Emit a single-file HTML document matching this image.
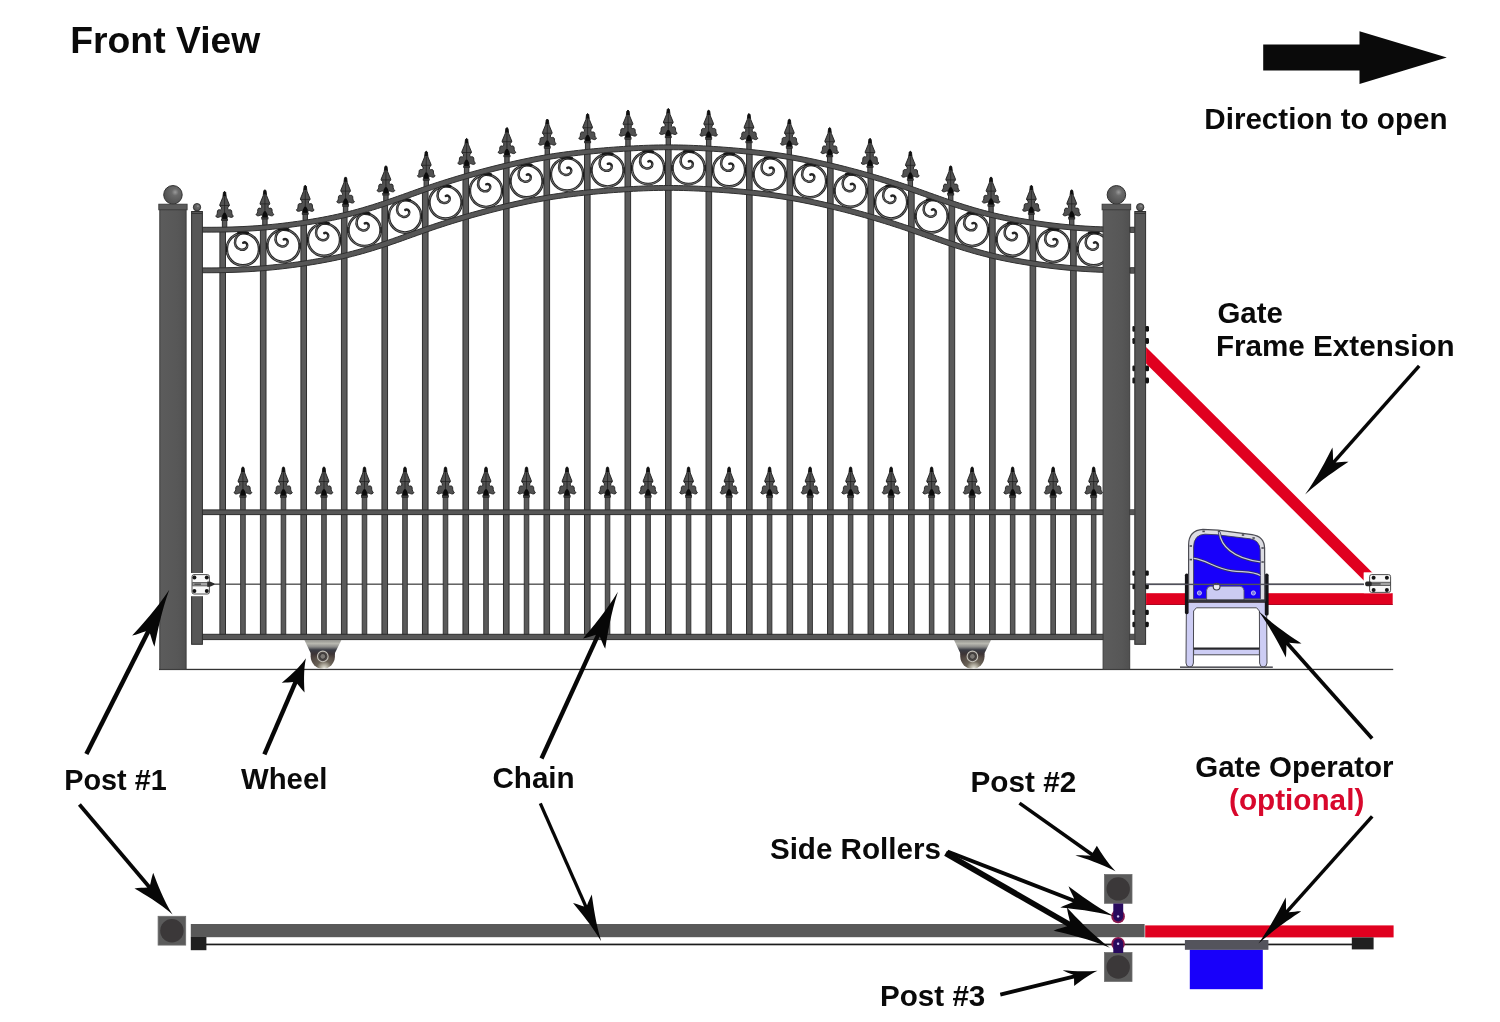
<!DOCTYPE html>
<html><head><meta charset="utf-8"><title>Sliding gate diagram</title>
<style>
html,body{margin:0;padding:0;background:#fff;}
body{width:1500px;height:1022px;overflow:hidden;font-family:"Liberation Sans",sans-serif;}
svg{display:block;}
text{font-family:"Liberation Sans",sans-serif;font-weight:bold;}
</style></head><body>
<svg width="1500" height="1022" viewBox="0 0 1500 1022">
<defs>
<radialGradient id="ball" cx="0.62" cy="0.36" r="0.75">
<stop offset="0" stop-color="#9a9a9a"/><stop offset="0.25" stop-color="#6a6a6a"/><stop offset="1" stop-color="#4a4a4a"/>
</radialGradient>
<linearGradient id="postg" x1="0" x2="1" y1="0" y2="0">
<stop offset="0" stop-color="#5c5c5c"/><stop offset="0.7" stop-color="#575757"/><stop offset="1" stop-color="#505050"/>
</linearGradient>
<linearGradient id="brk" x1="0" x2="0" y1="0" y2="1">
<stop offset="0" stop-color="#92928e"/><stop offset="0.2" stop-color="#b8b8b0"/><stop offset="0.38" stop-color="#8c8c8a"/><stop offset="0.55" stop-color="#3a3c44"/><stop offset="0.78" stop-color="#3c3436"/><stop offset="1" stop-color="#4a3e3a" stop-opacity="0"/>
</linearGradient>
<radialGradient id="whl" cx="0.56" cy="1.0" r="0.95">
<stop offset="0" stop-color="#f0f0e8"/><stop offset="0.16" stop-color="#b4b0a2"/><stop offset="0.34" stop-color="#6a6256"/><stop offset="0.7" stop-color="#4e4440"/><stop offset="1" stop-color="#3a3232"/>
</radialGradient>
<g id="fin">
<path d="M0,-0.3 L-1.1,0.8 L-1.7,5.6 L-4.85,13.3 L-4.6,14.5 L-3.3,15.5 L-3.2,17.5 L-4.2,18.3 C-5.4,17.8 -6.9,18.2 -7.1,19.4 C-7.2,21 -7.3,22.3 -7.6,23.1 C-8,23.7 -8.9,23.9 -8.8,24.4 C-8.4,25.7 -7,26.1 -5.8,25.7 C-4.6,25.3 -3.6,24.6 -2.7,25.2 L-2.4,27.5 L2.4,27.5 L2.7,25.2 C3.6,24.6 4.6,25.3 5.8,25.7 C7,26.1 8.4,25.7 8.8,24.4 C8.9,23.9 8,23.7 7.6,23.1 C7.3,22.3 7.2,21 7.1,19.4 C6.9,18.2 5.4,17.8 4.2,18.3 L3.2,17.5 L3.3,15.5 L4.6,14.5 L4.85,13.3 L1.7,5.6 L1.1,0.8 Z" fill="#515151" stroke="#1c1c1c" stroke-width="0.9" stroke-linejoin="round"/>
<path d="M0,-0.3 L-1.1,0.8 L-1.5,4.6 L1.5,4.6 L1.1,0.8 Z" fill="#101010"/>
<path d="M-4.5,13.9 L4.5,13.9 M0,5 L0,22" stroke="#1e1e1e" stroke-width="0.7" fill="none"/>
<path d="M-0.9,21.2 L0.9,21.2 L2.4,24 L2.4,27.5 L-2.4,27.5 L-2.4,24 Z" fill="#0b0b0b"/>
<rect x="-3.2" y="27.4" width="6.4" height="1.7" fill="#3a3a3a" stroke="#1e1e1e" stroke-width="0.5"/>
</g>
<g id="scr" fill="none" stroke-linecap="round">
<circle r="16.2" stroke="#242424" stroke-width="2.7"/>
<circle r="16.2" stroke="#8a8a8a" stroke-width="0.9" stroke-dasharray="1.4 0.9"/>
<path d="M4.4,-16.2 C-1,-17.4 -6,-15 -7.5,-10 C-8.9,-5 -7,-0.8 -2.3,0.4 C1.2,1.1 4.4,-1 4.3,-4 C4.2,-6.3 2,-7.5 0.3,-6.5" stroke="#242424" stroke-width="2.5"/>
<path d="M4.4,-16.2 C-1,-17.4 -6,-15 -7.5,-10 C-8.9,-5 -7,-0.8 -2.3,0.4 C1.2,1.1 4.4,-1 4.3,-4" stroke="#868686" stroke-width="0.8" stroke-dasharray="1.4 0.9"/>
<path d="M-4.5,-16.4 Q0,-17.9 4.8,-16.3" stroke="#161616" stroke-width="2.6"/>
<path d="M16.6,-3 L16.6,3 M-16.6,-3 L-16.6,3" stroke="#1a1a1a" stroke-width="1.6" stroke-linecap="butt"/>
</g>
</defs>
<rect width="1500" height="1022" fill="#fff"/>
<g id="front">
<rect x="159" y="668.8" width="1234.2" height="1.3" fill="#333"/>
<rect x="205" y="583.5" width="1159" height="1.4" fill="#555"/>
<use href="#scr" x="242.95" y="249.25"/>
<use href="#scr" x="283.46" y="245.87"/>
<use href="#scr" x="323.97" y="239.69"/>
<use href="#scr" x="364.49" y="229.89"/>
<use href="#scr" x="405" y="216.35"/>
<use href="#scr" x="445.5" y="202.47"/>
<use href="#scr" x="486.01" y="190.79"/>
<use href="#scr" x="526.52" y="181.24"/>
<use href="#scr" x="567.03" y="174.44"/>
<use href="#scr" x="607.54" y="170.3"/>
<use href="#scr" x="648.05" y="167.96"/>
<use href="#scr" x="688.56" y="167.95"/>
<use href="#scr" x="729.07" y="170.27"/>
<use href="#scr" x="769.58" y="174.39"/>
<use href="#scr" x="810.09" y="181.16"/>
<use href="#scr" x="850.6" y="190.69"/>
<use href="#scr" x="891.11" y="202.35"/>
<use href="#scr" x="931.62" y="216.22"/>
<use href="#scr" x="972.13" y="229.78"/>
<use href="#scr" x="1012.64" y="239.62"/>
<use href="#scr" x="1053.15" y="245.82"/>
<use href="#scr" x="1093.66" y="249.23"/>
<g fill="#5a5a5a" stroke="#2e2e2e" stroke-width="0.9"><rect x="240.65" y="496" width="4.6" height="138.8"/><rect x="281.16" y="496" width="4.6" height="138.8"/><rect x="321.67" y="496" width="4.6" height="138.8"/><rect x="362.19" y="496" width="4.6" height="138.8"/><rect x="402.69" y="496" width="4.6" height="138.8"/><rect x="443.2" y="496" width="4.6" height="138.8"/><rect x="483.71" y="496" width="4.6" height="138.8"/><rect x="524.23" y="496" width="4.6" height="138.8"/><rect x="564.74" y="496" width="4.6" height="138.8"/><rect x="605.25" y="496" width="4.6" height="138.8"/><rect x="645.75" y="496" width="4.6" height="138.8"/><rect x="686.26" y="496" width="4.6" height="138.8"/><rect x="726.78" y="496" width="4.6" height="138.8"/><rect x="767.29" y="496" width="4.6" height="138.8"/><rect x="807.8" y="496" width="4.6" height="138.8"/><rect x="848.31" y="496" width="4.6" height="138.8"/><rect x="888.82" y="496" width="4.6" height="138.8"/><rect x="929.33" y="496" width="4.6" height="138.8"/><rect x="969.84" y="496" width="4.6" height="138.8"/><rect x="1010.35" y="496" width="4.6" height="138.8"/><rect x="1050.86" y="496" width="4.6" height="138.8"/><rect x="1091.37" y="496" width="4.6" height="138.8"/></g>
<use href="#fin" transform="translate(242.95,467.1) scale(1,1.04)"/>
<use href="#fin" transform="translate(283.46,467.1) scale(1,1.04)"/>
<use href="#fin" transform="translate(323.97,467.1) scale(1,1.04)"/>
<use href="#fin" transform="translate(364.49,467.1) scale(1,1.04)"/>
<use href="#fin" transform="translate(405,467.1) scale(1,1.04)"/>
<use href="#fin" transform="translate(445.5,467.1) scale(1,1.04)"/>
<use href="#fin" transform="translate(486.01,467.1) scale(1,1.04)"/>
<use href="#fin" transform="translate(526.52,467.1) scale(1,1.04)"/>
<use href="#fin" transform="translate(567.03,467.1) scale(1,1.04)"/>
<use href="#fin" transform="translate(607.54,467.1) scale(1,1.04)"/>
<use href="#fin" transform="translate(648.05,467.1) scale(1,1.04)"/>
<use href="#fin" transform="translate(688.56,467.1) scale(1,1.04)"/>
<use href="#fin" transform="translate(729.08,467.1) scale(1,1.04)"/>
<use href="#fin" transform="translate(769.59,467.1) scale(1,1.04)"/>
<use href="#fin" transform="translate(810.1,467.1) scale(1,1.04)"/>
<use href="#fin" transform="translate(850.61,467.1) scale(1,1.04)"/>
<use href="#fin" transform="translate(891.12,467.1) scale(1,1.04)"/>
<use href="#fin" transform="translate(931.62,467.1) scale(1,1.04)"/>
<use href="#fin" transform="translate(972.13,467.1) scale(1,1.04)"/>
<use href="#fin" transform="translate(1012.64,467.1) scale(1,1.04)"/>
<use href="#fin" transform="translate(1053.15,467.1) scale(1,1.04)"/>
<use href="#fin" transform="translate(1093.66,467.1) scale(1,1.04)"/>
<g fill="#5a5a5a" stroke="#2e2e2e" stroke-width="1"><rect x="222.37" y="220.1" width="4.4" height="9.1"/><rect x="219.9" y="228.7" width="5.6" height="407.1"/><rect x="262.71" y="218.5" width="4.4" height="8.72"/><rect x="260.41" y="226.72" width="5.6" height="409.08"/><rect x="303.05" y="214" width="4.4" height="8.43"/><rect x="300.92" y="221.93" width="5.6" height="413.87"/><rect x="343.39" y="205.7" width="4.4" height="8.95"/><rect x="341.43" y="214.15" width="5.6" height="421.65"/><rect x="383.73" y="194.5" width="4.4" height="8.26"/><rect x="381.94" y="202.26" width="5.6" height="433.54"/><rect x="424.07" y="179.9" width="4.4" height="8.57"/><rect x="422.45" y="187.97" width="5.6" height="447.83"/><rect x="464.41" y="167.1" width="4.4" height="8.55"/><rect x="462.96" y="175.15" width="5.6" height="460.65"/><rect x="504.75" y="156.3" width="4.4" height="8.74"/><rect x="503.47" y="164.54" width="5.6" height="471.26"/><rect x="545.09" y="147.8" width="4.4" height="8.93"/><rect x="543.98" y="156.23" width="5.6" height="479.57"/><rect x="585.43" y="142.3" width="4.4" height="9.12"/><rect x="584.49" y="150.92" width="5.6" height="484.88"/><rect x="625.77" y="138.8" width="4.4" height="9.41"/><rect x="625" y="147.71" width="5.6" height="488.09"/><rect x="666.11" y="137.2" width="4.4" height="9.7"/><rect x="665.51" y="146.4" width="5.6" height="489.4"/><rect x="706.45" y="138.8" width="4.4" height="9.39"/><rect x="706.02" y="147.69" width="5.6" height="488.11"/><rect x="746.79" y="142.3" width="4.4" height="9.08"/><rect x="746.53" y="150.88" width="5.6" height="484.92"/><rect x="787.13" y="147.8" width="4.4" height="8.87"/><rect x="787.04" y="156.17" width="5.6" height="479.63"/><rect x="827.47" y="156.3" width="4.4" height="8.66"/><rect x="827.55" y="164.46" width="5.6" height="471.34"/><rect x="867.81" y="167.1" width="4.4" height="8.45"/><rect x="868.06" y="175.05" width="5.6" height="460.75"/><rect x="908.15" y="179.9" width="4.4" height="8.43"/><rect x="908.57" y="187.83" width="5.6" height="447.97"/><rect x="948.49" y="194.5" width="4.4" height="8.14"/><rect x="949.08" y="202.14" width="5.6" height="433.66"/><rect x="988.83" y="205.7" width="4.4" height="8.85"/><rect x="989.59" y="214.05" width="5.6" height="421.75"/><rect x="1029.17" y="214" width="4.4" height="8.37"/><rect x="1030.1" y="221.87" width="5.6" height="413.93"/><rect x="1069.51" y="218.5" width="4.4" height="8.68"/><rect x="1070.61" y="226.68" width="5.6" height="409.12"/></g>
<use href="#fin" x="224.57" y="191.6"/>
<use href="#fin" x="264.91" y="190"/>
<use href="#fin" x="305.25" y="185.5"/>
<use href="#fin" x="345.59" y="177.2"/>
<use href="#fin" x="385.93" y="166"/>
<use href="#fin" x="426.27" y="151.4"/>
<use href="#fin" x="466.61" y="138.6"/>
<use href="#fin" x="506.95" y="127.8"/>
<use href="#fin" x="547.29" y="119.3"/>
<use href="#fin" x="587.63" y="113.8"/>
<use href="#fin" x="627.97" y="110.3"/>
<use href="#fin" x="668.31" y="108.7"/>
<use href="#fin" x="708.65" y="110.3"/>
<use href="#fin" x="748.99" y="113.8"/>
<use href="#fin" x="789.33" y="119.3"/>
<use href="#fin" x="829.67" y="127.8"/>
<use href="#fin" x="870.01" y="138.6"/>
<use href="#fin" x="910.35" y="151.4"/>
<use href="#fin" x="950.69" y="166"/>
<use href="#fin" x="991.03" y="177.2"/>
<use href="#fin" x="1031.37" y="185.5"/>
<use href="#fin" x="1071.71" y="190"/>
<path d="M201.9,227.31 L206.92,227.32 L211.94,227.31 L216.95,227.28 L221.97,227.22 L226.99,227.12 L232.01,226.98 L237.03,226.8 L242.05,226.59 L247.06,226.33 L252.08,226.03 L257.1,225.69 L262.12,225.31 L267.14,224.87 L272.16,224.4 L277.17,223.88 L282.19,223.32 L287.21,222.71 L292.23,222.06 L297.25,221.38 L302.27,220.65 L307.28,219.88 L312.3,219.07 L317.32,218.21 L322.34,217.3 L327.36,216.34 L332.38,215.32 L337.39,214.23 L342.41,213.08 L347.43,211.86 L352.45,210.56 L357.47,209.2 L362.48,207.78 L367.5,206.29 L372.52,204.75 L377.54,203.15 L382.56,201.5 L387.58,199.8 L392.59,198.06 L397.61,196.29 L402.63,194.5 L407.65,192.7 L412.67,190.9 L417.69,189.12 L422.7,187.35 L427.72,185.62 L432.74,183.92 L437.76,182.26 L442.78,180.64 L447.8,179.05 L452.81,177.5 L457.83,175.98 L462.85,174.5 L467.87,173.05 L472.89,171.63 L477.91,170.25 L482.92,168.9 L487.94,167.59 L492.96,166.3 L497.98,165.05 L503,163.82 L508.02,162.63 L513.03,161.48 L518.05,160.35 L523.07,159.27 L528.09,158.22 L533.11,157.22 L538.12,156.26 L543.14,155.36 L548.16,154.5 L553.18,153.7 L558.2,152.95 L563.22,152.24 L568.23,151.58 L573.25,150.96 L578.27,150.38 L583.29,149.83 L588.31,149.32 L593.33,148.83 L598.34,148.37 L603.36,147.94 L608.38,147.53 L613.4,147.15 L618.42,146.8 L623.44,146.47 L628.45,146.17 L633.47,145.9 L638.49,145.65 L643.51,145.43 L648.53,145.25 L653.55,145.1 L658.56,144.99 L663.58,144.92 L668.6,144.9 L673.62,144.92 L678.64,144.99 L683.65,145.1 L688.67,145.25 L693.69,145.44 L698.71,145.66 L703.73,145.91 L708.75,146.18 L713.76,146.49 L718.78,146.81 L723.8,147.17 L728.82,147.55 L733.84,147.95 L738.86,148.39 L743.87,148.85 L748.89,149.34 L753.91,149.85 L758.93,150.4 L763.95,150.99 L768.97,151.61 L773.98,152.27 L779,152.98 L784.02,153.73 L789.04,154.53 L794.06,155.39 L799.08,156.3 L804.09,157.26 L809.11,158.26 L814.13,159.31 L819.15,160.4 L824.17,161.52 L829.18,162.68 L834.2,163.87 L839.22,165.1 L844.24,166.35 L849.26,167.64 L854.28,168.96 L859.29,170.31 L864.31,171.69 L869.33,173.11 L874.35,174.56 L879.37,176.04 L884.39,177.56 L889.4,179.11 L894.42,180.7 L899.44,182.33 L904.46,183.99 L909.48,185.68 L914.5,187.42 L919.51,189.19 L924.53,190.97 L929.55,192.77 L934.57,194.57 L939.59,196.36 L944.61,198.13 L949.62,199.87 L954.64,201.56 L959.66,203.21 L964.68,204.81 L969.7,206.35 L974.72,207.84 L979.73,209.26 L984.75,210.62 L989.77,211.91 L994.79,213.13 L999.81,214.28 L1004.82,215.36 L1009.84,216.38 L1014.86,217.34 L1019.88,218.24 L1024.9,219.1 L1029.92,219.91 L1034.93,220.68 L1039.95,221.4 L1044.97,222.09 L1049.99,222.74 L1055.01,223.34 L1060.03,223.9 L1065.04,224.42 L1070.06,224.89 L1075.08,225.32 L1080.1,225.71 L1085.12,226.05 L1090.14,226.34 L1095.15,226.6 L1100.17,226.81 L1105.19,226.99 L1110.21,227.12 L1115.23,227.22 L1120.25,227.28 L1125.26,227.31 L1130.28,227.32 L1135.3,227.31 L1135.3,232.11 L1130.28,232.12 L1125.26,232.11 L1120.25,232.08 L1115.23,232.02 L1110.21,231.92 L1105.19,231.79 L1100.17,231.62 L1095.15,231.41 L1090.14,231.16 L1085.12,230.87 L1080.1,230.54 L1075.08,230.16 L1070.06,229.74 L1065.04,229.28 L1060.03,228.77 L1055.01,228.22 L1049.99,227.63 L1044.97,226.99 L1039.95,226.32 L1034.93,225.61 L1029.92,224.85 L1024.9,224.06 L1019.88,223.22 L1014.86,222.34 L1009.84,221.4 L1004.82,220.41 L999.81,219.36 L994.79,218.25 L989.77,217.07 L984.75,215.82 L979.73,214.5 L974.72,213.12 L969.7,211.68 L964.68,210.17 L959.66,208.61 L954.64,207 L949.62,205.34 L944.61,203.63 L939.59,201.89 L934.57,200.11 L929.55,198.31 L924.53,196.51 L919.51,194.71 L914.5,192.92 L909.48,191.16 L904.46,189.43 L899.44,187.74 L894.42,186.09 L889.4,184.48 L884.39,182.9 L879.37,181.36 L874.35,179.85 L869.33,178.38 L864.31,176.94 L859.29,175.53 L854.28,174.16 L849.26,172.82 L844.24,171.52 L839.22,170.25 L834.2,169.01 L829.18,167.8 L824.17,166.62 L819.15,165.48 L814.13,164.37 L809.11,163.3 L804.09,162.28 L799.08,161.3 L794.06,160.37 L789.04,159.49 L784.02,158.67 L779,157.9 L773.98,157.18 L768.97,156.5 L763.95,155.87 L758.93,155.28 L753.91,154.72 L748.89,154.19 L743.87,153.7 L738.86,153.23 L733.84,152.79 L728.82,152.38 L723.8,152 L718.78,151.64 L713.76,151.31 L708.75,151 L703.73,150.72 L698.71,150.47 L693.69,150.25 L688.67,150.06 L683.65,149.91 L678.64,149.79 L673.62,149.72 L668.6,149.7 L663.58,149.72 L658.56,149.79 L653.55,149.9 L648.53,150.05 L643.51,150.24 L638.49,150.46 L633.47,150.71 L628.45,150.99 L623.44,151.3 L618.42,151.63 L613.4,151.98 L608.38,152.37 L603.36,152.78 L598.34,153.21 L593.33,153.68 L588.31,154.17 L583.29,154.7 L578.27,155.25 L573.25,155.85 L568.23,156.48 L563.22,157.15 L558.2,157.87 L553.18,158.64 L548.16,159.46 L543.14,160.33 L538.12,161.26 L533.11,162.24 L528.09,163.26 L523.07,164.33 L518.05,165.43 L513.03,166.57 L508.02,167.75 L503,168.96 L497.98,170.2 L492.96,171.47 L487.94,172.77 L482.92,174.11 L477.91,175.48 L472.89,176.88 L467.87,178.32 L462.85,179.79 L457.83,181.3 L452.81,182.84 L447.8,184.41 L442.78,186.03 L437.76,187.68 L432.74,189.36 L427.72,191.09 L422.7,192.85 L417.69,194.64 L412.67,196.44 L407.65,198.24 L402.63,200.04 L397.61,201.82 L392.59,203.57 L387.58,205.28 L382.56,206.94 L377.54,208.55 L372.52,210.11 L367.5,211.62 L362.48,213.06 L357.47,214.45 L352.45,215.77 L347.43,217.02 L342.41,218.2 L337.39,219.32 L332.38,220.37 L327.36,221.36 L322.34,222.3 L317.32,223.19 L312.3,224.03 L307.28,224.82 L302.27,225.58 L297.25,226.29 L292.23,226.97 L287.21,227.6 L282.19,228.2 L277.17,228.75 L272.16,229.26 L267.14,229.72 L262.12,230.14 L257.1,230.52 L252.08,230.86 L247.06,231.15 L242.05,231.4 L237.03,231.61 L232.01,231.79 L226.99,231.92 L221.97,232.02 L216.95,232.08 L211.94,232.11 L206.92,232.12 L201.9,232.11Z" fill="#575757" stroke="#2e2e2e" stroke-width="1" stroke-linejoin="round"/>
<path d="M201.9,267.91 L206.92,267.92 L211.94,267.91 L216.95,267.88 L221.97,267.82 L226.99,267.72 L232.01,267.58 L237.03,267.4 L242.05,267.19 L247.06,266.93 L252.08,266.63 L257.1,266.29 L262.12,265.91 L267.14,265.47 L272.16,265 L277.17,264.48 L282.19,263.92 L287.21,263.31 L292.23,262.66 L297.25,261.98 L302.27,261.25 L307.28,260.48 L312.3,259.67 L317.32,258.81 L322.34,257.9 L327.36,256.94 L332.38,255.92 L337.39,254.83 L342.41,253.68 L347.43,252.46 L352.45,251.16 L357.47,249.8 L362.48,248.38 L367.5,246.89 L372.52,245.35 L377.54,243.75 L382.56,242.1 L387.58,240.4 L392.59,238.66 L397.61,236.89 L402.63,235.1 L407.65,233.3 L412.67,231.5 L417.69,229.72 L422.7,227.95 L427.72,226.22 L432.74,224.52 L437.76,222.86 L442.78,221.24 L447.8,219.65 L452.81,218.1 L457.83,216.58 L462.85,215.1 L467.87,213.65 L472.89,212.23 L477.91,210.85 L482.92,209.5 L487.94,208.19 L492.96,206.9 L497.98,205.65 L503,204.42 L508.02,203.23 L513.03,202.08 L518.05,200.95 L523.07,199.87 L528.09,198.82 L533.11,197.82 L538.12,196.86 L543.14,195.96 L548.16,195.1 L553.18,194.3 L558.2,193.55 L563.22,192.84 L568.23,192.18 L573.25,191.56 L578.27,190.98 L583.29,190.43 L588.31,189.92 L593.33,189.43 L598.34,188.97 L603.36,188.54 L608.38,188.13 L613.4,187.75 L618.42,187.4 L623.44,187.07 L628.45,186.77 L633.47,186.5 L638.49,186.25 L643.51,186.03 L648.53,185.85 L653.55,185.7 L658.56,185.59 L663.58,185.52 L668.6,185.5 L673.62,185.52 L678.64,185.59 L683.65,185.7 L688.67,185.85 L693.69,186.04 L698.71,186.26 L703.73,186.51 L708.75,186.78 L713.76,187.09 L718.78,187.41 L723.8,187.77 L728.82,188.15 L733.84,188.55 L738.86,188.99 L743.87,189.45 L748.89,189.94 L753.91,190.45 L758.93,191 L763.95,191.59 L768.97,192.21 L773.98,192.87 L779,193.58 L784.02,194.33 L789.04,195.13 L794.06,195.99 L799.08,196.9 L804.09,197.86 L809.11,198.86 L814.13,199.91 L819.15,201 L824.17,202.12 L829.18,203.28 L834.2,204.47 L839.22,205.7 L844.24,206.95 L849.26,208.24 L854.28,209.56 L859.29,210.91 L864.31,212.29 L869.33,213.71 L874.35,215.16 L879.37,216.64 L884.39,218.16 L889.4,219.71 L894.42,221.3 L899.44,222.93 L904.46,224.59 L909.48,226.28 L914.5,228.02 L919.51,229.79 L924.53,231.57 L929.55,233.37 L934.57,235.17 L939.59,236.96 L944.61,238.73 L949.62,240.47 L954.64,242.16 L959.66,243.81 L964.68,245.41 L969.7,246.95 L974.72,248.44 L979.73,249.86 L984.75,251.22 L989.77,252.51 L994.79,253.73 L999.81,254.88 L1004.82,255.96 L1009.84,256.98 L1014.86,257.94 L1019.88,258.84 L1024.9,259.7 L1029.92,260.51 L1034.93,261.28 L1039.95,262 L1044.97,262.69 L1049.99,263.34 L1055.01,263.94 L1060.03,264.5 L1065.04,265.02 L1070.06,265.49 L1075.08,265.92 L1080.1,266.31 L1085.12,266.65 L1090.14,266.94 L1095.15,267.2 L1100.17,267.41 L1105.19,267.59 L1110.21,267.72 L1115.23,267.82 L1120.25,267.88 L1125.26,267.91 L1130.28,267.92 L1135.3,267.91 L1135.3,272.71 L1130.28,272.72 L1125.26,272.71 L1120.25,272.68 L1115.23,272.62 L1110.21,272.52 L1105.19,272.39 L1100.17,272.22 L1095.15,272.01 L1090.14,271.76 L1085.12,271.47 L1080.1,271.14 L1075.08,270.76 L1070.06,270.34 L1065.04,269.88 L1060.03,269.37 L1055.01,268.82 L1049.99,268.23 L1044.97,267.59 L1039.95,266.92 L1034.93,266.21 L1029.92,265.45 L1024.9,264.66 L1019.88,263.82 L1014.86,262.94 L1009.84,262 L1004.82,261.01 L999.81,259.96 L994.79,258.85 L989.77,257.67 L984.75,256.42 L979.73,255.1 L974.72,253.72 L969.7,252.28 L964.68,250.77 L959.66,249.21 L954.64,247.6 L949.62,245.94 L944.61,244.23 L939.59,242.49 L934.57,240.71 L929.55,238.91 L924.53,237.11 L919.51,235.31 L914.5,233.52 L909.48,231.76 L904.46,230.03 L899.44,228.34 L894.42,226.69 L889.4,225.08 L884.39,223.5 L879.37,221.96 L874.35,220.45 L869.33,218.98 L864.31,217.54 L859.29,216.13 L854.28,214.76 L849.26,213.42 L844.24,212.12 L839.22,210.85 L834.2,209.61 L829.18,208.4 L824.17,207.22 L819.15,206.08 L814.13,204.97 L809.11,203.9 L804.09,202.88 L799.08,201.9 L794.06,200.97 L789.04,200.09 L784.02,199.27 L779,198.5 L773.98,197.78 L768.97,197.1 L763.95,196.47 L758.93,195.88 L753.91,195.32 L748.89,194.79 L743.87,194.3 L738.86,193.83 L733.84,193.39 L728.82,192.98 L723.8,192.6 L718.78,192.24 L713.76,191.91 L708.75,191.6 L703.73,191.32 L698.71,191.07 L693.69,190.85 L688.67,190.66 L683.65,190.51 L678.64,190.39 L673.62,190.32 L668.6,190.3 L663.58,190.32 L658.56,190.39 L653.55,190.5 L648.53,190.65 L643.51,190.84 L638.49,191.06 L633.47,191.31 L628.45,191.59 L623.44,191.9 L618.42,192.23 L613.4,192.58 L608.38,192.97 L603.36,193.38 L598.34,193.81 L593.33,194.28 L588.31,194.77 L583.29,195.3 L578.27,195.85 L573.25,196.45 L568.23,197.08 L563.22,197.75 L558.2,198.47 L553.18,199.24 L548.16,200.06 L543.14,200.93 L538.12,201.86 L533.11,202.84 L528.09,203.86 L523.07,204.93 L518.05,206.03 L513.03,207.17 L508.02,208.35 L503,209.56 L497.98,210.8 L492.96,212.07 L487.94,213.37 L482.92,214.71 L477.91,216.08 L472.89,217.48 L467.87,218.92 L462.85,220.39 L457.83,221.9 L452.81,223.44 L447.8,225.01 L442.78,226.63 L437.76,228.28 L432.74,229.96 L427.72,231.69 L422.7,233.45 L417.69,235.24 L412.67,237.04 L407.65,238.84 L402.63,240.64 L397.61,242.42 L392.59,244.17 L387.58,245.88 L382.56,247.54 L377.54,249.15 L372.52,250.71 L367.5,252.22 L362.48,253.66 L357.47,255.05 L352.45,256.37 L347.43,257.62 L342.41,258.8 L337.39,259.92 L332.38,260.97 L327.36,261.96 L322.34,262.9 L317.32,263.79 L312.3,264.63 L307.28,265.42 L302.27,266.18 L297.25,266.89 L292.23,267.57 L287.21,268.2 L282.19,268.8 L277.17,269.35 L272.16,269.86 L267.14,270.32 L262.12,270.74 L257.1,271.12 L252.08,271.46 L247.06,271.75 L242.05,272 L237.03,272.21 L232.01,272.39 L226.99,272.52 L221.97,272.62 L216.95,272.68 L211.94,272.71 L206.92,272.72 L201.9,272.71Z" fill="#575757" stroke="#2e2e2e" stroke-width="1" stroke-linejoin="round"/>
<rect x="201.9" y="509.9" width="933.4" height="4.7" fill="#575757" stroke="#2e2e2e" stroke-width="1"/>
<rect x="201.9" y="634.3" width="933.4" height="5.3" fill="#575757" stroke="#2e2e2e" stroke-width="1"/>
<rect x="191.6" y="211.5" width="10.8" height="432.8" fill="#575757" stroke="#2e2e2e" stroke-width="1"/>
<rect x="191.6" y="213" width="10.8" height="1" fill="#343434"/>
<circle cx="197" cy="207.2" r="3.7" fill="url(#ball)" stroke="#2e2e2e" stroke-width="0.9"/>
<rect x="1134.8" y="211.5" width="10.8" height="432.8" fill="#575757" stroke="#2e2e2e" stroke-width="1"/>
<rect x="1134.8" y="213" width="10.8" height="1" fill="#343434"/>
<circle cx="1140.2" cy="207.2" r="3.7" fill="url(#ball)" stroke="#2e2e2e" stroke-width="0.9"/>
<circle cx="322.8" cy="656.6" r="12.1" fill="url(#whl)"/>
<path d="M304.4,640 L341.4,640 L335,653 L334.8,658 L310.8,658 L310.6,653 Z" fill="url(#brk)"/>
<circle cx="322.8" cy="656.4" r="5.3" fill="#4e4846" stroke="#c4c2ba" stroke-width="1.1"/>
<circle cx="322.8" cy="656.4" r="2.9" fill="#7c7874" stroke="#2a2a2a" stroke-width="0.8"/>
<circle cx="972.4" cy="656.6" r="12.1" fill="url(#whl)"/>
<path d="M954,640 L991,640 L984.6,653 L984.4,658 L960.4,658 L960.2,653 Z" fill="url(#brk)"/>
<circle cx="972.4" cy="656.4" r="5.3" fill="#4e4846" stroke="#c4c2ba" stroke-width="1.1"/>
<circle cx="972.4" cy="656.4" r="2.9" fill="#7c7874" stroke="#2a2a2a" stroke-width="0.8"/>
<rect x="159.8" y="208.2" width="26.3" height="461.2" fill="url(#postg)" stroke="#3c3c3c" stroke-width="1"/>
<circle cx="172.95" cy="194.8" r="9.25" fill="url(#ball)" stroke="#2e2e2e" stroke-width="1"/>
<rect x="158.8" y="204.2" width="28.3" height="5.6" fill="#5b5b5b" stroke="#3a3a3a" stroke-width="0.9"/>
<rect x="1103.1" y="208.2" width="26.6" height="461.2" fill="url(#postg)" stroke="#3c3c3c" stroke-width="1"/>
<circle cx="1116.4" cy="194.8" r="9.25" fill="url(#ball)" stroke="#2e2e2e" stroke-width="1"/>
<rect x="1102.1" y="204.2" width="28.6" height="5.6" fill="#5b5b5b" stroke="#3a3a3a" stroke-width="0.9"/>
<rect x="1132.4" y="325.9" width="2.6" height="5.8" rx="1.2" fill="#1a1a1a"/>
<rect x="1145.4" y="325.9" width="3.6" height="5.8" rx="1.4" fill="#111"/>
<rect x="1132.4" y="338.1" width="2.6" height="5.8" rx="1.2" fill="#1a1a1a"/>
<rect x="1145.4" y="338.1" width="3.6" height="5.8" rx="1.4" fill="#111"/>
<rect x="1132.4" y="365.5" width="2.6" height="5.8" rx="1.2" fill="#1a1a1a"/>
<rect x="1145.4" y="365.5" width="3.6" height="5.8" rx="1.4" fill="#111"/>
<rect x="1132.4" y="377.6" width="2.6" height="5.8" rx="1.2" fill="#1a1a1a"/>
<rect x="1145.4" y="377.6" width="3.6" height="5.8" rx="1.4" fill="#111"/>
<rect x="1132.4" y="570.4" width="2.6" height="5.4" rx="1.2" fill="#1a1a1a"/>
<rect x="1145.4" y="570.4" width="3.4" height="5.4" rx="1.4" fill="#111"/>
<rect x="1132.4" y="583.9" width="2.6" height="5.4" rx="1.2" fill="#1a1a1a"/>
<rect x="1145.4" y="583.9" width="3.4" height="5.4" rx="1.4" fill="#111"/>
<rect x="1132.4" y="609.7" width="2.6" height="5.4" rx="1.2" fill="#1a1a1a"/>
<rect x="1145.4" y="609.7" width="3.4" height="5.4" rx="1.4" fill="#111"/>
<rect x="1132.4" y="621.8" width="2.6" height="5.4" rx="1.2" fill="#1a1a1a"/>
<rect x="1145.4" y="621.8" width="3.4" height="5.4" rx="1.4" fill="#111"/>
<rect x="1130.2" y="227.2" width="4.4" height="5.4" fill="#555" stroke="#333" stroke-width="0.6"/>
<rect x="1130.2" y="267.8" width="4.4" height="5.4" fill="#555" stroke="#333" stroke-width="0.6"/>
<rect x="1130.2" y="509.6" width="4.4" height="5.2" fill="#555"/>
<rect x="1130.2" y="634.2" width="4.4" height="5.6" fill="#555"/>
<clipPath id="dclip"><path d="M1146.1,300 L1500,300 L1500,572.6 L1363.8,572.6 L1363.8,620 L1146.1,620 Z"/></clipPath>
<g clip-path="url(#dclip)"><line x1="1140" y1="349.32" x2="1390" y2="598.32" stroke="#e0001f" stroke-width="11.6"/></g>
<rect x="1146.1" y="593.2" width="246.6" height="11.6" fill="#e0001f"/>
<rect x="1146.1" y="604" width="246.6" height="0.9" fill="#a8001c"/>
<rect x="1363.8" y="572.6" width="27.4" height="20.6" fill="#fff"/><rect x="1369.6" y="574.6" width="21" height="17.8" rx="2" fill="#f8f8f8" stroke="#3c3c3c" stroke-width="0.9"/><circle cx="1373.6" cy="577.8" r="2" fill="#141414"/><circle cx="1373.6" cy="590" r="2" fill="#141414"/><circle cx="1386.9" cy="577.8" r="2" fill="#141414"/><circle cx="1386.9" cy="590" r="2" fill="#141414"/><rect x="1370" y="582.2" width="20.4" height="3.4" fill="#a4a4a4" stroke="#3a3a3a" stroke-width="0.7"/><rect x="1371.5" y="583.1" width="9.18" height="1.6" fill="#555"/><rect x="1365.2" y="581.6" width="6.6" height="4.6" rx="1.6" fill="#262626"/>
<rect x="191" y="573" width="19.4" height="23.2" fill="#fff"/><rect x="192" y="574.6" width="17.4" height="19.4" rx="2" fill="#f8f8f8" stroke="#3c3c3c" stroke-width="0.9"/><circle cx="194.4" cy="577.4" r="2" fill="#141414"/><circle cx="194.4" cy="591" r="2" fill="#141414"/><circle cx="206.8" cy="577.4" r="2" fill="#141414"/><circle cx="206.8" cy="591" r="2" fill="#141414"/><rect x="192.8" y="582.5" width="14.8" height="3.4" fill="#a4a4a4" stroke="#3a3a3a" stroke-width="0.7"/><rect x="194.3" y="583.4" width="6.66" height="1.6" fill="#555"/><path d="M207.4,581.4 L210.6,581.8 L214.4,583.6 L214.4,584.8 L210.6,586.6 L207.4,587 Z" fill="#2c2c2c"/>
<g stroke="#4a4a52" stroke-width="1" fill="#cdcdf4">
<path d="M1186.4,602.4 L1266.6,602.4 L1267,663 Q1266.8,667 1263.2,667 Q1259.8,667 1259.6,663 L1259.4,611 L1256.6,607.8 L1196.4,607.8 L1193.6,611 L1193.4,663 Q1193.2,667 1189.8,667 Q1186.2,667 1186,663 Z"/>
<rect x="1193.6" y="649.4" width="65.8" height="5.4"/>
</g>
<rect x="1180" y="666.4" width="92.8" height="1.6" fill="#55555c"/>
<line x1="1193.6" y1="648.2" x2="1259.4" y2="648.2" stroke="#26262a" stroke-width="1.6"/>
<rect x="1184.9" y="573.6" width="3.7" height="40.6" rx="1.7" fill="#141418"/>
<rect x="1264.8" y="573.6" width="3.8" height="42" rx="1.7" fill="#141418"/>
<path d="M1188.6,601 L1188.6,545 Q1188.6,530.2 1203,529.4 L1218,530.2 L1252,534.6 Q1264.2,536.4 1264.6,548 L1264.8,601 Z" fill="#dcdce2" stroke="#4c4c54" stroke-width="1.2"/>
<path d="M1193.6,598.8 L1193.6,547 Q1193.8,534.6 1205,534.2 L1217,534.8 L1250,538.8 Q1259.6,540.2 1260.2,550 L1260.4,598.8 Z" fill="#1800fa" stroke="#3c3c58" stroke-width="0.9"/>
<rect x="1189.6" y="545.2" width="2.4" height="1.6" fill="#4a4a52"/>
<rect x="1189.6" y="558.8" width="2.4" height="1.6" fill="#4a4a52"/>
<rect x="1202.4" y="530.6" width="2.4" height="1.6" fill="#4a4a52"/>
<rect x="1217.8" y="530.8" width="2.4" height="1.6" fill="#4a4a52"/>
<rect x="1241.8" y="534.2" width="2.4" height="1.6" fill="#4a4a52"/>
<rect x="1252.4" y="537.2" width="2.4" height="1.6" fill="#4a4a52"/>
<rect x="1261.4" y="547.2" width="2.4" height="1.6" fill="#4a4a52"/>
<rect x="1261.4" y="561.2" width="2.4" height="1.6" fill="#4a4a52"/>
<path d="M1219.4,532.4 C1220.6,545 1232,558.4 1260.4,561.8" fill="none" stroke="#34345e" stroke-width="2.8"/>
<path d="M1219.4,532.4 C1220.6,545 1232,558.4 1260.4,561.8" fill="none" stroke="#c8c8e4" stroke-width="1.2"/>
<path d="M1193.6,558.4 C1206,559.6 1216,569 1232,570.8 C1246,572.2 1254,571.4 1260.4,575.4" fill="none" stroke="#34345e" stroke-width="2.8"/>
<path d="M1193.6,558.4 C1206,559.6 1216,569 1232,570.8 C1246,572.2 1254,571.4 1260.4,575.4" fill="none" stroke="#c8c8e4" stroke-width="1.2"/>
<path d="M1206.6,600.4 L1206.6,590.4 Q1206.8,586.6 1210.6,586.2 L1240,586.2 Q1243.6,586.4 1244,590.4 L1244,600.4 Z" fill="#cbcbf2" stroke="#5a5a64" stroke-width="0.9"/>
<circle cx="1216.6" cy="586.6" r="3.4" fill="#ececf4" stroke="#3a3a44" stroke-width="1.1"/>
<circle cx="1199.4" cy="593" r="2.1" fill="#7878e0" stroke="#d4d4f0" stroke-width="0.8"/>
<circle cx="1253.4" cy="593" r="2.1" fill="#7878e0" stroke="#d4d4f0" stroke-width="0.8"/>
<rect x="1188.4" y="599.4" width="76.6" height="2.8" fill="#34343c"/>
<rect x="1146" y="583.7" width="218" height="1.4" fill="#50505a"/>
</g>
<g id="top">
<rect x="190.8" y="924" width="953.8" height="13.2" fill="#595959"/>
<rect x="1145.2" y="925.4" width="248.4" height="12" fill="#e0001f"/>
<rect x="191" y="943.6" width="1165" height="1.7" fill="#1c1c1c"/>
<rect x="190.8" y="937" width="15.6" height="13.2" fill="#202020"/>
<rect x="1351.8" y="937.4" width="21.8" height="12" fill="#202020"/>
<rect x="158.1" y="916.3" width="27.6" height="28.8" fill="#5b5b5b" stroke="#6e6e6e" stroke-width="0.8"/>
<circle cx="171.9" cy="930.7" r="11.7" fill="#3b3839"/>
<rect x="1104.4" y="874.5" width="27.6" height="28.8" fill="#5b5b5b" stroke="#6e6e6e" stroke-width="0.8"/>
<circle cx="1118.2" cy="888.9" r="11.7" fill="#3b3839"/>
<rect x="1104.4" y="952.6" width="27.6" height="28.8" fill="#5b5b5b" stroke="#6e6e6e" stroke-width="0.8"/>
<circle cx="1118.2" cy="967" r="11.7" fill="#3b3839"/>
<circle cx="1118.1" cy="916.4" r="6.8" fill="#8a184c"/>
<path d="M1113.3,903.4 L1123.2,903.4 L1123.2,916.6 A4.95,4.95 0 0 1 1113.3,916.6 Z" fill="#280a5e"/>
<circle cx="1118.1" cy="916.4" r="1.2" fill="#cfc4f4"/>
<circle cx="1118.1" cy="943.8" r="6.8" fill="#8a184c"/>
<path d="M1113.3,953 L1123.2,953 L1123.2,943.6 A4.95,4.95 0 0 0 1113.3,943.6 Z" fill="#280a5e"/>
<circle cx="1118.1" cy="943.8" r="1.2" fill="#cfc4f4"/>
<rect x="1189.8" y="949.6" width="73" height="39.6" fill="#1800fa"/>
<rect x="1184.9" y="940" width="83.5" height="9.8" fill="#54545c"/>
</g>
<path d="M1263.2,44.6 L1359.5,44.6 L1359.5,31.2 L1446.8,57.4 L1359.5,84 L1359.5,70.5 L1263.2,70.5 Z" fill="#0a0a0a"/>
<line x1="86.4" y1="753.9" x2="149.23" y2="629.52" stroke="#070707" stroke-width="4.5"/>
<path transform="translate(169.3,589.8) rotate(-63.2)" d="M0,0 C-23.04,-2.75 -43.2,-8.5 -57.6,-12.5 C-54.57,-8.81 -50.53,-5.32 -47.5,-2.25 L-47.5,2.25 C-50.53,5.32 -54.57,8.81 -57.6,12.5 C-43.2,8.5 -23.04,2.75 0,0 Z" fill="#070707"/>
<line x1="264.4" y1="754.3" x2="296.39" y2="680.23" stroke="#070707" stroke-width="4.4"/>
<path transform="translate(305.9,658.2) rotate(-66.64)" d="M0,0 C-12.84,-2.73 -24.08,-8.43 -32.1,-12.4 C-30.57,-8.73 -28.53,-5.26 -27,-2.2 L-27,2.2 C-28.53,5.26 -30.57,8.73 -32.1,12.4 C-24.08,8.43 -12.84,2.73 0,0 Z" fill="#070707"/>
<line x1="541.5" y1="758.5" x2="599.08" y2="632.79" stroke="#070707" stroke-width="4.3"/>
<path transform="translate(617.9,591.7) rotate(-65.39)" d="M0,0 C-22.84,-2.68 -42.83,-8.3 -57.1,-12.2 C-54.43,-8.58 -50.87,-5.16 -48.2,-2.15 L-48.2,2.15 C-50.87,5.16 -54.43,8.58 -57.1,12.2 C-42.83,8.3 -22.84,2.68 0,0 Z" fill="#070707"/>
<line x1="1419.2" y1="365.8" x2="1332.44" y2="463.58" stroke="#070707" stroke-width="3.5"/>
<path transform="translate(1305.1,494.4) rotate(131.58)" d="M0,0 C-21.32,-2.37 -39.97,-7.31 -53.3,-10.75 C-50.57,-7.51 -46.93,-4.45 -44.2,-1.75 L-44.2,1.75 C-46.93,4.45 -50.57,7.51 -53.3,10.75 C-39.97,7.31 -21.32,2.37 0,0 Z" fill="#070707"/>
<line x1="1372.1" y1="738.4" x2="1285.86" y2="641.74" stroke="#070707" stroke-width="3.7"/>
<path transform="translate(1258.7,611.3) rotate(-131.74)" d="M0,0 C-21,-2.31 -39.38,-7.14 -52.5,-10.5 C-49.89,-7.39 -46.41,-4.45 -43.8,-1.85 L-43.8,1.85 C-46.41,4.45 -49.89,7.39 -52.5,10.5 C-39.38,7.14 -21,2.31 0,0 Z" fill="#070707"/>
<line x1="79.4" y1="804.5" x2="150.56" y2="888.48" stroke="#070707" stroke-width="3.8"/>
<path transform="translate(172.6,914.5) rotate(49.73)" d="M0,0 C-17.8,-2.69 -33.38,-8.33 -44.5,-12.25 C-42.28,-8.52 -39.32,-5 -37.1,-1.9 L-37.1,1.9 C-39.32,5 -42.28,8.52 -44.5,12.25 C-33.38,8.33 -17.8,2.69 0,0 Z" fill="#070707"/>
<line x1="540.3" y1="803.4" x2="586.78" y2="908.64" stroke="#070707" stroke-width="3.3"/>
<path transform="translate(601.2,941.3) rotate(66.17)" d="M0,0 C-18.6,-2.25 -34.88,-6.97 -46.5,-10.25 C-44.16,-7.15 -41.04,-4.23 -38.7,-1.65 L-38.7,1.65 C-41.04,4.23 -44.16,7.15 -46.5,10.25 C-34.88,6.97 -18.6,2.25 0,0 Z" fill="#070707"/>
<line x1="1019.5" y1="803.1" x2="1094.05" y2="855.98" stroke="#070707" stroke-width="3.6"/>
<path transform="translate(1115.5,871.2) rotate(35.35)" d="M0,0 C-11.96,-2.18 -22.42,-6.73 -29.9,-9.9 C-29.72,-6.98 -29.48,-4.23 -29.3,-1.8 L-29.3,1.8 C-33.05,4.38 -38.05,7.3 -41.8,10.4 C-31.35,7.07 -16.72,2.29 0,0 Z" fill="#070707"/>
<line x1="947.5" y1="851.5" x2="1076.16" y2="901.49" stroke="#070707" stroke-width="4"/>
<path transform="translate(1114,916.2) rotate(21.24)" d="M0,0 C-21.28,-2.51 -39.9,-7.75 -53.2,-11.4 C-50.32,-8.02 -46.48,-4.82 -43.6,-2 L-43.6,2 C-46.48,4.82 -50.32,8.02 -53.2,11.4 C-39.9,7.75 -21.28,2.51 0,0 Z" fill="#070707"/>
<line x1="945.6" y1="853.2" x2="1071.07" y2="925.36" stroke="#070707" stroke-width="5.7"/>
<path transform="translate(1109.9,947.7) rotate(29.91)" d="M0,0 C-22.92,-2.95 -42.97,-9.11 -57.3,-13.4 C-54.45,-9.6 -50.65,-6.02 -47.8,-2.85 L-47.8,2.85 C-50.65,6.02 -54.45,9.6 -57.3,13.4 C-42.97,9.11 -22.92,2.95 0,0 Z" fill="#070707"/>
<line x1="1000.3" y1="994.6" x2="1076.52" y2="975.86" stroke="#070707" stroke-width="3.7"/>
<path transform="translate(1097.5,970.7) rotate(-13.81)" d="M0,0 C-13.52,-1.91 -25.35,-5.92 -33.8,-8.7 C-31.04,-6.23 -27.36,-3.9 -24.6,-1.85 L-24.6,1.85 C-25.11,4.09 -25.79,6.62 -26.3,9.3 C-19.73,6.32 -10.52,2.05 0,0 Z" fill="#070707"/>
<line x1="1372.2" y1="816.3" x2="1285.39" y2="913.41" stroke="#070707" stroke-width="3.5"/>
<path transform="translate(1258.4,943.6) rotate(131.8)" d="M0,0 C-21.04,-2.3 -39.45,-7.11 -52.6,-10.45 C-49.87,-7.32 -46.23,-4.36 -43.5,-1.75 L-43.5,1.75 C-46.23,4.36 -49.87,7.32 -52.6,10.45 C-39.45,7.11 -21.04,2.3 0,0 Z" fill="#070707"/>
<g id="labels" style="will-change:transform">
<text x="70.29" y="53.4" font-size="37.31" fill="#0a0a0a">Front View</text>
<text x="1204.33" y="128.6" font-size="29.58" fill="#0a0a0a">Direction to open</text>
<text x="1217.42" y="323.4" font-size="29.44" fill="#0a0a0a">Gate</text>
<text x="1215.93" y="356.3" font-size="29.63" fill="#0a0a0a">Frame Extension</text>
<text x="64.28" y="789.8" font-size="28.79" fill="#0a0a0a">Post #1</text>
<text x="241" y="788.7" font-size="29.34" fill="#0a0a0a">Wheel</text>
<text x="492.41" y="787.8" font-size="29.63" fill="#0a0a0a">Chain</text>
<text x="970.52" y="791.5" font-size="29.71" fill="#0a0a0a">Post #2</text>
<text x="1195.22" y="777.2" font-size="29.51" fill="#0a0a0a">Gate Operator</text>
<text x="1229.01" y="809.6" font-size="29.71" fill="#d8082c">(optional)</text>
<text x="769.91" y="859.1" font-size="29.6" fill="#0a0a0a">Side Rollers</text>
<text x="880.03" y="1006.4" font-size="29.62" fill="#0a0a0a">Post #3</text>
</g>
</svg>
</body></html>
